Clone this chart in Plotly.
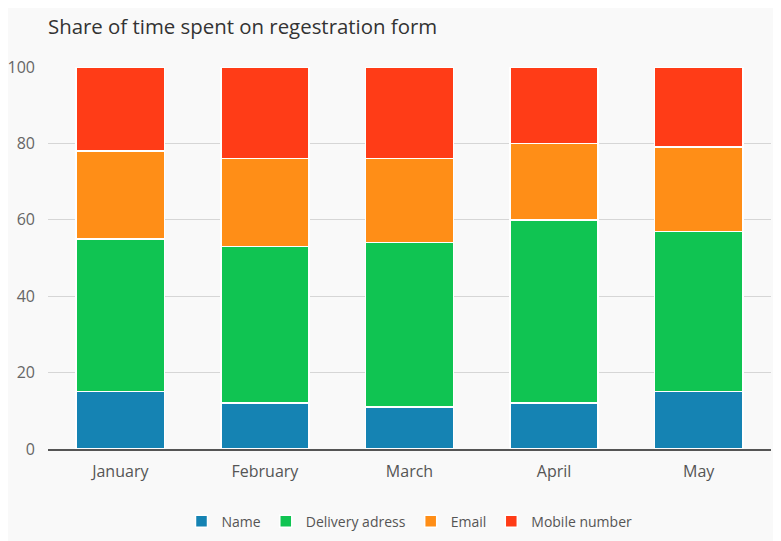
import plotly.graph_objects as go

months = ["January", "February", "March", "April", "May"]
series_names = ["Name", "Delivery adress", "Email", "Mobile number"]
name_vals = [15, 12, 11, 12, 15]
delivery_vals = [40, 41, 43, 48, 42]
email_vals = [23, 23, 22, 20, 22]
mobile_vals = [22, 24, 24, 20, 21]
y_ticks = [0, 20, 40, 60, 80, 100]

colors = ["#1583b3", "#10c452", "#ff8e17", "#ff3c17"]
values = [name_vals, delivery_vals, email_vals, mobile_vals]

fig = go.Figure()
for name, vals, color in zip(series_names, values, colors):
    fig.add_trace(go.Bar(
        x=months,
        y=vals,
        name=name,
        marker=dict(color=color, line=dict(color="white", width=1.5)),
    ))

# page has an 8px offset when rendered, margins compensate for it
fig.update_layout(
    barmode="stack",
    bargap=0.39,
    width=781,
    height=541,
    paper_bgcolor="#f9f9f9",
    plot_bgcolor="#f9f9f9",
    font=dict(family="Open Sans", color="#555555", size=14),
    title=dict(
        text="Share of time spent on regestration form",
        x=40 / 781, xanchor="left",
        y=1 - 19 / 541, yanchor="middle",
        font=dict(size=20.4, color="#333333"),
    ),
    xaxis=dict(
        showgrid=False,
        showline=True,
        linecolor="#555555",
        linewidth=1.5,
        ticks="",
        automargin=False,
        ticklabelstandoff=7,
        tickfont=dict(size=16, color="#555555"),
    ),
    yaxis=dict(
        range=[0, 100],
        tickvals=y_ticks,
        gridcolor="#d6d6d6",
        zeroline=False,
        ticks="",
        automargin=False,
        ticklabelstandoff=12,
        tickfont=dict(size=16, color="#666666"),
    ),
    legend=dict(
        orientation="h",
        x=0.5, xanchor="center",
        y=-0.19, yanchor="middle",
        font=dict(size=14, color="#555555"),
        traceorder="normal",
    ),
    margin=dict(l=40, r=18, t=59, b=85),
)

fig.write_html("out.html")
